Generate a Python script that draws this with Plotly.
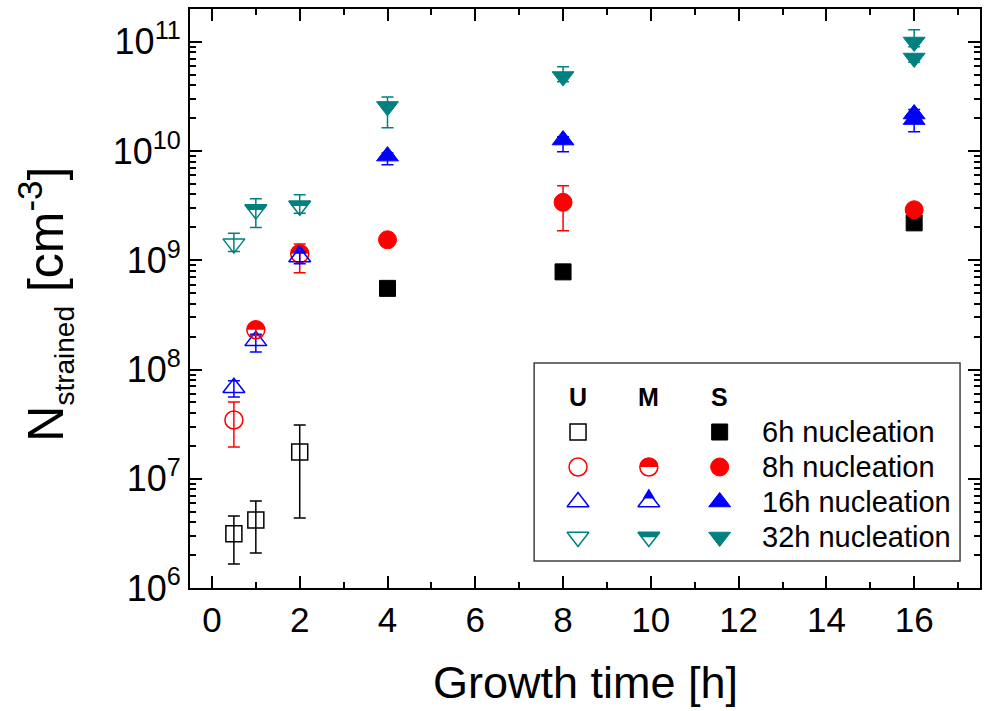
import math
import plotly.graph_objects as go

# ---------------- data ----------------
# U = open symbols, M = half-filled, S = filled
u6_x = [0.5, 1, 2]
u6_y = [3.13e6, 4.2e6, 1.76e7]
u6_hi = [4.56e6, 6.27e6, 3.11e7]
u6_lo = [1.66e6, 2.09e6, 4.37e6]

u8_x = [0.5]
u8_y = [3.45e7]
u8_hi = [5.05e7]
u8_lo = [1.95e7]

u16_x = [0.5, 1]
u16_y = [6.8e7, 1.83e8]
u16_hi = [7.9e7, 2.1e8]
u16_lo = [5.6e7, 1.45e8]

u32_x = [0.5]
u32_y = [1.42e9]
u32_hi = [1.77e9]
u32_lo = [1.2e9]

m8_x = [1, 2]
m8_y = [2.31e8, 1.15e9]
m8_hi = [2.6e8, 1.41e9]
m8_lo = [2.05e8, 7.7e8]

m16_x = [2]
m16_y = [1.07e9]
m16_hi = [1.2e9]
m16_lo = [9.3e8]

m32_x = [1, 2]
m32_y = [2.91e9, 3.16e9]
m32_hi = [3.65e9, 3.97e9]
m32_lo = [2.0e9, 2.7e9]

s6_x = [4, 8, 16]
s6_y = [5.53e8, 7.83e8, 2.2e9]
s6_hi = [5.53e8, 7.83e8, 2.2e9]
s6_lo = [5.53e8, 7.4e8, 2.1e9]

s8_x = [4, 8, 16]
s8_y = [1.54e9, 3.39e9, 2.9e9]
s8_hi = [1.6e9, 4.8e9, 3.0e9]
s8_lo = [1.48e9, 1.86e9, 2.7e9]

s16_x = [4, 8, 16, 16]
s16_y = [8.98e9, 1.26e10, 2.18e10, 1.94e10]
s16_hi = [9.6e9, 1.35e10, 2.4e10, 2.1e10]
s16_lo = [7.5e9, 9.84e9, 1.8e10, 1.5e10]

s32_x = [4, 8, 16, 16]
s32_y = [2.56e10, 4.81e10, 9.95e10, 7.1e10]
s32_hi = [3.13e10, 5.9e10, 1.29e11, 7.5e10]
s32_lo = [1.63e10, 4.3e10, 9.0e10, 6.5e10]

x_tickvals = [0, 2, 4, 6, 8, 10, 12, 14, 16]
y_tickvals = [1e6, 1e7, 1e8, 1e9, 1e10, 1e11]
y_ticktext = ["10<sup>6</sup>", "10<sup>7</sup>", "10<sup>8</sup>",
              "10<sup>9</sup>", "10<sup>10</sup>", "10<sup>11</sup>"]

legend_rows = ["6h nucleation", "8h nucleation", "16h nucleation", "32h nucleation"]
legend_cols = ["U", "M", "S"]

# ---------------- styles ----------------
BLACK = "#000000"
RED = "#FF0000"
BLUE = "#0000FF"
TEAL = "#008080"
FONT = "Liberation Sans, Arial, sans-serif"

SIZES = {"square": 16, "circle": 18, "triangle-up": 19, "triangle-down": 19}


def half_path(sym):
    s = SIZES[sym]
    r = s / 2.0
    if sym == "circle":
        pts = []
        n = 24
        for i in range(n + 1):
            a = math.pi * i / n
            pts.append((r * math.cos(a), r * math.sin(a)))
        return "M " + " L ".join(f"{px:.2f},{py:.2f}" for px, py in pts) + " Z"
    rt = r * 2 / math.sqrt(3)
    r2 = r / 2
    rs = r * math.sqrt(2)
    h = rs + r2
    if sym == "triangle-up":
        ycut = rs - 0.55 * h
        hw = rt * 0.55
        return f"M {-hw:.2f},{ycut:.2f} L {hw:.2f},{ycut:.2f} L 0,{rs:.2f} Z"
    # triangle-down: filled band along the top edge
    ycut = r2 - 0.28 * h
    hw = rt * 0.72
    return (f"M {-rt:.2f},{r2:.2f} L {rt:.2f},{r2:.2f} "
            f"L {hw:.2f},{ycut:.2f} L {-hw:.2f},{ycut:.2f} Z")


fig = go.Figure()
shapes = []

series = [
    # (x, y, hi, lo, symbol, color, style)
    (u6_x, u6_y, u6_hi, u6_lo, "square", BLACK, "U"),
    (u8_x, u8_y, u8_hi, u8_lo, "circle", RED, "U"),
    (u16_x, u16_y, u16_hi, u16_lo, "triangle-up", BLUE, "U"),
    (u32_x, u32_y, u32_hi, u32_lo, "triangle-down", TEAL, "U"),
    (m8_x, m8_y, m8_hi, m8_lo, "circle", RED, "M"),
    (m16_x, m16_y, m16_hi, m16_lo, "triangle-up", BLUE, "M"),
    (m32_x, m32_y, m32_hi, m32_lo, "triangle-down", TEAL, "M"),
    (s6_x, s6_y, s6_hi, s6_lo, "square", BLACK, "S"),
    (s8_x, s8_y, s8_hi, s8_lo, "circle", RED, "S"),
    (s16_x, s16_y, s16_hi, s16_lo, "triangle-up", BLUE, "S"),
    (s32_x, s32_y, s32_hi, s32_lo, "triangle-down", TEAL, "S"),
]

for xs, ys, his, los, sym, col, style in series:
    plus = [h - y for h, y in zip(his, ys)]
    minus = [y - l for l, y in zip(los, ys)]
    if style == "S":
        marker = dict(symbol=sym, size=SIZES[sym], color=col, line=dict(color=col, width=1))
    else:
        marker = dict(symbol=sym + "-open", size=SIZES[sym], color=col, line=dict(color=col, width=1.5))
    fig.add_trace(go.Scatter(
        x=xs, y=ys, mode="markers", marker=marker, showlegend=False,
        error_y=dict(type="data", symmetric=False, array=plus, arrayminus=minus,
                     color=col, thickness=1.5, width=6),
        xaxis="x", yaxis="y"))
    if style == "M":
        for xv, yv in zip(xs, ys):
            shapes.append(dict(type="path", xref="x", yref="y", xsizemode="pixel",
                               ysizemode="pixel", xanchor=xv, yanchor=yv,
                               path=half_path(sym), fillcolor=col,
                               line=dict(width=0), layer="below"))

# ---------------- custom legend (pixel-coordinate overlay axes) ----------------
LEG_COL_X = {"U": 579, "M": 650, "S": 721}
LEG_HEAD_Y = 397
LEG_ROW_Y = [432, 467, 502, 537]
LEG_TEXT_X = 761
row_styles = [("square", BLACK), ("circle", RED), ("triangle-up", BLUE), ("triangle-down", TEAL)]

for i, (sym, col) in enumerate(row_styles):
    ry = LEG_ROW_Y[i]
    for c in legend_cols:
        if c == "M" and i == 0:
            continue
        if c == "S":
            mk = dict(symbol=sym, size=SIZES[sym], color=col, line=dict(color=col, width=1))
        else:
            mk = dict(symbol=sym + "-open", size=SIZES[sym], color=col, line=dict(color=col, width=1.5))
        fig.add_trace(go.Scatter(x=[LEG_COL_X[c]], y=[ry], mode="markers", marker=mk,
                                 showlegend=False, xaxis="x2", yaxis="y2", hoverinfo="skip"))
        if c == "M":
            shapes.append(dict(type="path", xref="x2", yref="y2", xsizemode="pixel",
                               ysizemode="pixel", xanchor=LEG_COL_X[c], yanchor=ry,
                               path=half_path(sym), fillcolor=col,
                               line=dict(width=0), layer="below"))

shapes.append(dict(type="rect", xref="x2", yref="y2", x0=535, x1=962, y0=363, y1=561,
                   line=dict(color="#404040", width=1.5), layer="below"))

annotations = []
for c in legend_cols:
    annotations.append(dict(x=LEG_COL_X[c], y=LEG_HEAD_Y, xref="x2", yref="y2", text=f"<b>{c}</b>",
                            showarrow=False, xanchor="center", yanchor="middle",
                            font=dict(size=25, color="black", family=FONT)))
for i, t in enumerate(legend_rows):
    annotations.append(dict(x=LEG_TEXT_X, y=LEG_ROW_Y[i], xref="x2", yref="y2", text=t,
                            showarrow=False, xanchor="left", yanchor="middle",
                            font=dict(size=29, color="black", family=FONT)))

# axis titles
annotations.append(dict(x=-0.183, y=0.49, xref="paper", yref="paper", textangle=-90,
                        text="N<sub><span style='font-size:28px'>strained</span></sub> [cm<sup>-3</sup>]",
                        showarrow=False, xanchor="center", yanchor="middle",
                        font=dict(size=50, color="black", family=FONT)))
annotations.append(dict(x=0.5, y=-0.164, xref="paper", yref="paper",
                        text="Growth time [h]", showarrow=False, xanchor="center", yanchor="middle",
                        font=dict(size=45, color="black", family=FONT)))

minor_y = [m * 10 ** e for e in range(6, 12) for m in range(2, 10) if m * 10 ** e < 2e11]

fig.update_layout(
    width=986, height=711,
    margin=dict(l=190, r=4, t=9, b=123),
    paper_bgcolor="white", plot_bgcolor="white",
    shapes=shapes, annotations=annotations,
    font=dict(family=FONT, color="black"),
    xaxis=dict(range=[-0.5, 17.5], tickvals=x_tickvals, ticks="inside", ticklen=12,
               tickwidth=2, tickcolor="black", showline=True, linecolor="black", linewidth=2,
               mirror="ticks", showgrid=False, zeroline=False,
               tickfont=dict(size=35, family=FONT, color="black"),
               minor=dict(tickvals=list(range(1, 18, 2)), ticks="inside", ticklen=6,
                          tickwidth=2, tickcolor="black", showgrid=False)),
    yaxis=dict(type="log", range=[6, 11.3], tickvals=y_tickvals, ticktext=y_ticktext,
               ticks="inside", ticklen=12, tickwidth=2, tickcolor="black", showline=True,
               linecolor="black", linewidth=2, mirror="ticks", showgrid=False, zeroline=False,
               tickfont=dict(size=36, family=FONT, color="black"),
               minor=dict(tickvals=minor_y, ticks="inside", ticklen=6, tickwidth=1.5,
                          tickcolor="black", showgrid=False)),
    xaxis2=dict(overlaying="x", anchor="y2", range=[190, 982], visible=False, fixedrange=True),
    yaxis2=dict(overlaying="y", anchor="x2", range=[588, 9], visible=False, fixedrange=True),
)

fig.write_html("out.html")
